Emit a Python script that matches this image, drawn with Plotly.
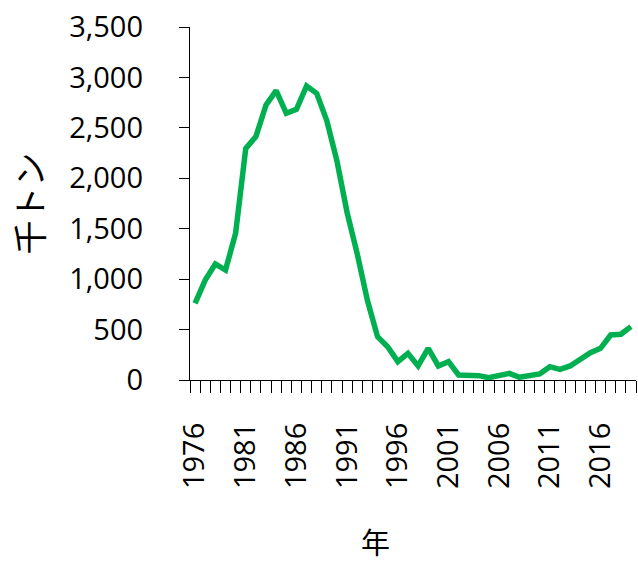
import plotly.graph_objects as go

years = list(range(1976, 2020))
values = [760, 990, 1150, 1090, 1455, 2297, 2413, 2727, 2869, 2644,
          2684, 2915, 2842, 2570, 2170, 1660, 1250, 790, 430, 330,
          182, 264, 139, 314, 139, 182, 50, 50, 43, 23,
          43, 66, 27, 43, 60, 132, 106, 139, 198, 271,
          314, 446, 453, 529]
x_tick_labels = [1976, 1981, 1986, 1991, 1996, 2001, 2006, 2011, 2016]
y_title = "千トン"
x_title = "年"

num_font = "Open Sans, Noto Sans, sans-serif"
cjk_font = "Noto Sans CJK JP"

fig = go.Figure()
fig.add_trace(go.Scatter(
    x=years, y=values, mode="lines",
    line=dict(color="#00B050", width=5.5),
    hoverinfo="skip", showlegend=False,
))

fig.update_layout(
    width=638, height=562,
    margin=dict(l=190, r=2, t=27, b=182),
    paper_bgcolor="white", plot_bgcolor="white",
    xaxis=dict(
        range=[1975.5, 2019.5],
        tickmode="array", tickvals=x_tick_labels,
        ticktext=[str(v) for v in x_tick_labels],
        ticks="", tickangle=-90,
        tickfont=dict(family=num_font, size=29, color="#000000"),
        ticklabelstandoff=30,
        showline=True, linecolor="#000000", linewidth=1.3,
        showgrid=False, zeroline=False,
        minor=dict(tick0=1975.5, dtick=1, ticks="outside", ticklen=12,
                   tickcolor="#000000", tickwidth=1.3, showgrid=False),
    ),
    yaxis=dict(
        range=[0, 3500], tickmode="linear", tick0=0, dtick=500,
        tickformat=",d",
        ticks="outside", ticklen=10, tickcolor="#000000", tickwidth=1.3,
        tickfont=dict(family=num_font, size=29, color="#000000"),
        ticklabelstandoff=30,
        showline=True, linecolor="#000000", linewidth=1.3,
        showgrid=False, zeroline=False,
    ),
    annotations=[
        dict(text=y_title, xref="paper", yref="paper",
             x=(28 - 190) / 446, y=0.5, xanchor="center", yanchor="middle",
             textangle=-90, showarrow=False,
             font=dict(family=cjk_font, size=34, color="#000000")),
        dict(text=x_title, xref="paper", yref="paper",
             x=(375 - 190) / 446, y=(380 - 541) / 353,
             xanchor="center", yanchor="middle", showarrow=False,
             font=dict(family=cjk_font, size=29, color="#000000")),
    ],
)

fig.write_html("out.html",
               config={"displayModeBar": False},
               post_script="document.body.style.margin='0';document.body.style.padding='0';")
